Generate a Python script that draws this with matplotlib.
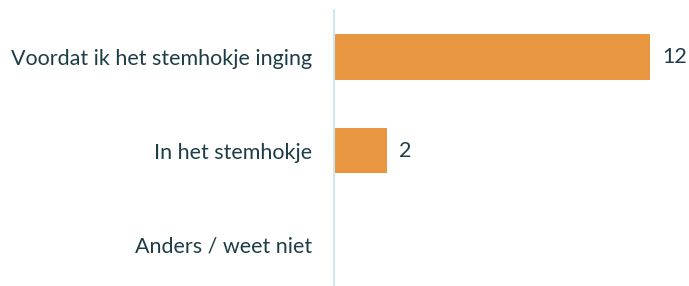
import matplotlib
matplotlib.use("Agg")
import matplotlib.pyplot as plt

categories = ["Voordat ik het stemhokje inging", "In het stemhokje", "Anders / weet niet"]
values = [12, 2, 0]
value_labels = ["12", "2", ""]

bar_color = "#E8963F"
text_color = "#1E3E47"
axis_color = "#CFE6EE"

fig = plt.figure(figsize=(6.89, 2.86), dpi=100)
W, H = 689, 286
ax = fig.add_axes([334 / W, 0, (W - 334) / W, (286 - 10) / H])
px_per_unit = 316 / 12
ax.set_xlim(0, (W - 334) / px_per_unit)
ax.set_ylim(2.449, -0.503)

y = list(range(len(categories)))
ax.barh(y, values, height=0.49, color=bar_color, left=0)
for yi, v, lab in zip(y, values, value_labels):
    if lab:
        ax.text(v + 12 / px_per_unit, yi, lab, va="center", ha="left",
                fontsize=15.5, color=text_color, family="Lato")

ax.set_yticks(y)
ax.set_yticklabels(categories, fontsize=15.5, color=text_color, family="Lato")
ax.tick_params(axis="y", length=0, pad=15.5)
ax.set_xticks([])
for s in ["top", "right", "bottom"]:
    ax.spines[s].set_visible(False)
ax.spines["left"].set_color(axis_color)
ax.spines["left"].set_linewidth(1.5)

fig.savefig("out.png", dpi=100)
